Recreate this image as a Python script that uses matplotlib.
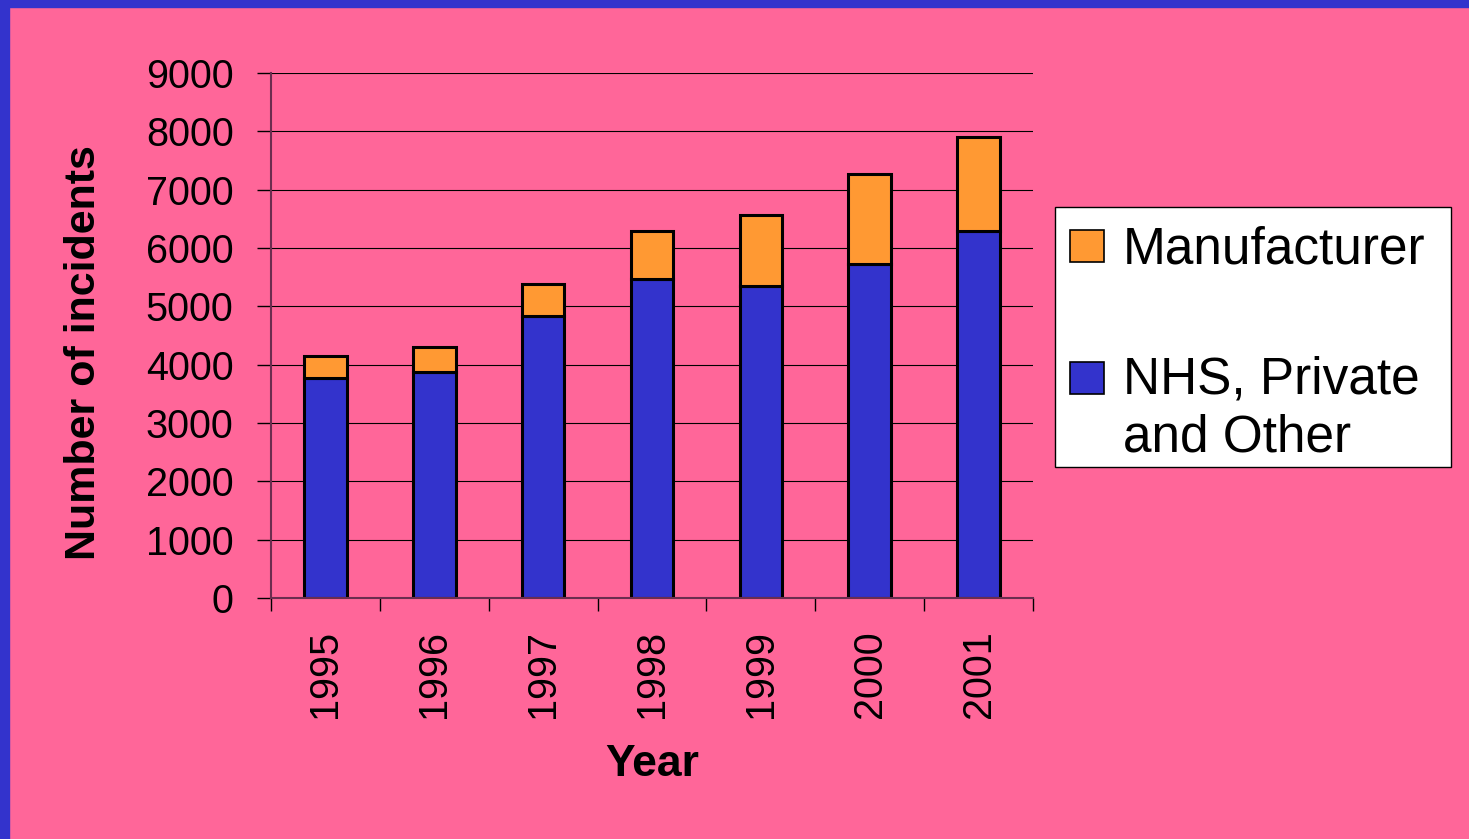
import matplotlib.pyplot as plt
from matplotlib.patches import Rectangle

# === DATA ===
years = ['1995', '1996', '1997', '1998', '1999', '2000', '2001']
nhs_private_other = [3770, 3875, 4830, 5470, 5350, 5730, 6300]
manufacturer = [375, 420, 550, 820, 1220, 1545, 1600]
y_ticks = [0, 1000, 2000, 3000, 4000, 5000, 6000, 7000, 8000, 9000]

# === STYLE ===
PINK = '#FF6699'
BLUE = '#3333CC'
ORANGE = '#FF9933'
W, H = 1469, 839
plt.rcParams['font.family'] = ['Liberation Sans', 'DejaVu Sans']

fig = plt.figure(figsize=(W / 100, H / 100), dpi=100, facecolor=PINK)


def fx(x):
    return x / W


def fy(y):
    return 1 - y / H


# blue frame on top and left
fig.patches.append(Rectangle((0, fy(7)), 1, 7 / H, transform=fig.transFigure,
                             color=BLUE, zorder=0))
fig.patches.append(Rectangle((0, 0), fx(9), 1, transform=fig.transFigure,
                             color=BLUE, zorder=0))

ax = fig.add_axes([fx(271), fy(598), fx(1033) - fx(271), fy(73) - fy(598)])
ax.set_facecolor(PINK)

x = list(range(len(years)))
ax.bar(x, nhs_private_other, width=0.39, color=BLUE, edgecolor='black', linewidth=2.2)
ax.bar(x, manufacturer, width=0.39, bottom=nhs_private_other, color=ORANGE,
       edgecolor='black', linewidth=2.2)

ax.set_xlim(-0.5, len(years) - 0.5)
ax.set_ylim(0, 9000)
ax.set_yticks(y_ticks)
ax.set_yticklabels([str(v) for v in y_ticks], fontsize=28.5)
ax.tick_params(axis='y', length=10, width=1, color='black', pad=17)
ax.grid(axis='y', color='black', linewidth=0.8)
ax.set_axisbelow(True)

# ticks between categories, labels at centres
ax.set_xticks([i - 0.5 for i in range(len(years) + 1)])
ax.set_xticklabels([])
ax.tick_params(axis='x', which='major', length=9.5, width=1, color='black')
ax.set_xticks(x, minor=True)
ax.set_xticklabels(years, minor=True, rotation=90, fontsize=28.5)
ax.tick_params(axis='x', which='minor', length=0, pad=23)

for s in ['top', 'right']:
    ax.spines[s].set_visible(False)
ax.spines['left'].set_color('#6b2d4f')
ax.spines['left'].set_linewidth(1.5)
ax.spines['bottom'].set_color('#6b2d4f')
ax.spines['bottom'].set_linewidth(1.5)

ax.set_ylabel('Number of incidents', fontsize=31, fontweight='bold', va='center')
ax.yaxis.set_label_coords(-0.246, 0.468)
ax.set_xlabel('Year', fontsize=32, fontweight='bold', va='center')
ax.xaxis.set_label_coords(0.5, -0.318)

# === LEGEND (drawn by hand to keep the square on the first line) ===
fig.patches.append(Rectangle((fx(1055), fy(467)), fx(1451) - fx(1055), fy(207) - fy(467),
                             transform=fig.transFigure, facecolor='white',
                             edgecolor='black', linewidth=1))
fig.patches.append(Rectangle((fx(1070), fy(262)), fx(34), 32 / H, transform=fig.transFigure,
                             facecolor=ORANGE, edgecolor='black', linewidth=1.2))
fig.patches.append(Rectangle((fx(1070), fy(394)), fx(34), 32 / H, transform=fig.transFigure,
                             facecolor=BLUE, edgecolor='black', linewidth=1.2))
fig.text(fx(1123), fy(263), 'Manufacturer', fontsize=37, va='baseline')
fig.text(fx(1123), fy(393), 'NHS, Private', fontsize=37, va='baseline')
fig.text(fx(1123), fy(452), 'and Other', fontsize=37, va='baseline')

fig.savefig('out.png', dpi=100, facecolor=PINK)
